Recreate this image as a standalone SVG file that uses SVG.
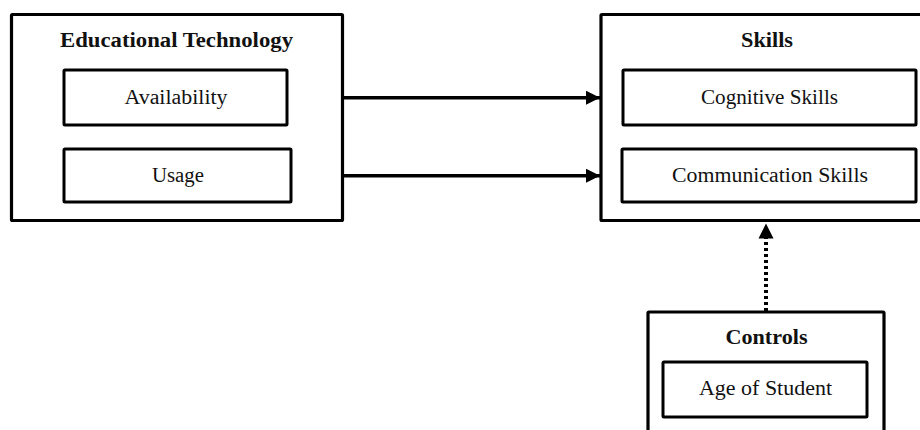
<svg xmlns="http://www.w3.org/2000/svg" width="920" height="430" viewBox="0 0 920 430">
  <style>
    .box { fill: #fff; stroke: #000; stroke-width: 3.2; }
    .inner { fill: #fff; stroke: #000; stroke-width: 3; }
    .t { font-family: "Liberation Serif", "Times New Roman", serif; font-size: 20.5px; fill: #111; text-anchor: middle; }
    .h { font-weight: bold; }
    .link { stroke: #000; stroke-width: 3.5; fill: none; }
    .dotted { stroke-dasharray: 3 3; stroke-width: 4; }
  </style>
  <defs>
    <marker id="arrow" markerUnits="userSpaceOnUse" markerWidth="16" markerHeight="16" refX="14" refY="7" orient="auto">
      <path d="M0,0 L14,7 L0,14 Z" fill="#000"/>
    </marker>
  </defs>
  <rect width="920" height="430" fill="#fff"/>

  <!-- Independent variables -->
  <g id="educational-technology">
    <rect class="box" x="11.5" y="14.5" width="331" height="206" rx="1"/>
    <text class="t h" x="176.5" y="46.5" textLength="233" lengthAdjust="spacingAndGlyphs">Educational Technology</text>
    <g id="availability">
      <rect class="inner" x="64" y="70" width="223" height="55" rx="1"/>
      <text class="t" x="176" y="103.5" textLength="103" lengthAdjust="spacingAndGlyphs">Availability</text>
    </g>
    <g id="usage">
      <rect class="inner" x="64" y="149" width="227" height="53" rx="1"/>
      <text class="t" x="178" y="182" textLength="52" lengthAdjust="spacingAndGlyphs">Usage</text>
    </g>
  </g>

  <!-- Outcomes -->
  <g id="skills">
    <rect class="box" x="601" y="14.5" width="340" height="206" rx="1"/>
    <text class="t h" x="767" y="47" textLength="52" lengthAdjust="spacingAndGlyphs">Skills</text>
    <g id="cognitive-skills">
      <rect class="inner" x="623" y="70" width="293" height="55" rx="1"/>
      <text class="t" x="769.5" y="103.5" textLength="137" lengthAdjust="spacingAndGlyphs">Cognitive Skills</text>
    </g>
    <g id="communication-skills">
      <rect class="inner" x="622" y="149" width="294" height="53" rx="1"/>
      <text class="t" x="770" y="182" textLength="196" lengthAdjust="spacingAndGlyphs">Communication Skills</text>
    </g>
  </g>

  <!-- Control variables -->
  <g id="controls">
    <rect class="box" x="648" y="312" width="236" height="140" rx="1"/>
    <text class="t h" x="766.5" y="343.5" textLength="82" lengthAdjust="spacingAndGlyphs">Controls</text>
    <g id="age-of-student">
      <rect class="inner" x="663" y="362" width="204" height="55" rx="1"/>
      <text class="t" x="765.5" y="394.5" textLength="133" lengthAdjust="spacingAndGlyphs">Age of Student</text>
    </g>
  </g>

  <g id="connectors">
    <line class="link" x1="343" y1="97.7" x2="600" y2="97.7" marker-end="url(#arrow)"/>
    <line class="link" x1="343" y1="175.7" x2="600" y2="175.7" marker-end="url(#arrow)"/>
    <line class="link dotted" x1="766" y1="311" x2="766" y2="238"/>
    <path d="M758.5,238.5 L766,223.5 L773.5,238.5 Z" fill="#000"/>
  </g>
</svg>
